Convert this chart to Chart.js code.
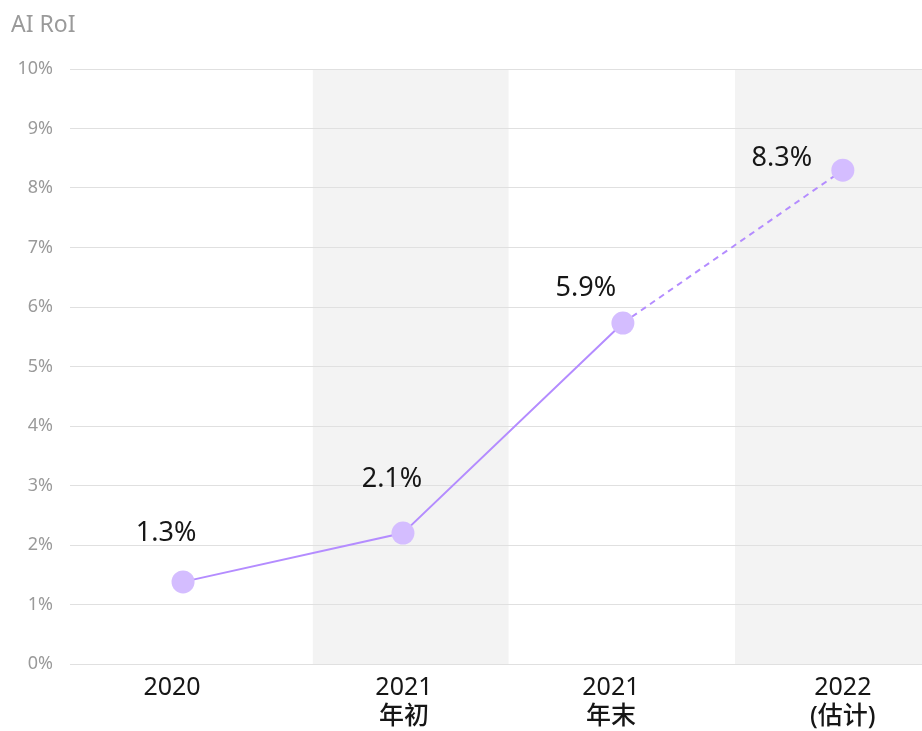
<!DOCTYPE html>
<html>
<head>
<meta charset="utf-8">
<title>AI RoI</title>
<script src="https://cdn.jsdelivr.net/npm/chart.js@4.4.1/dist/chart.umd.min.js"></script>
<style>
  html, body { margin: 0; padding: 0; background: #fff; overflow: hidden; }
  #wrap { width: 922px; height: 731px; position: relative; }
  canvas { display: block; }
</style>
</head>
<body>
<div id="wrap"><canvas id="chart"></canvas></div>
<script>
// ── Data ───────────────────────────────────────────
const TITLE = "AI RoI";
const CATEGORIES = [["2020"], ["2021", "年初"], ["2021", "年末"], ["2022", "(估计)"]];
const POSITIONS  = [0, 1, 2, 3];
const VALUES     = [1.38, 2.2, 5.73, 8.3];
const VALUE_LABELS = ["1.3%", "2.1%", "5.9%", "8.3%"];
const Y_TICKS_MAX = 10;

// shaded columns, in x-axis units
const BANDS = [[0.59, 1.48], [2.51, 3.36]];
const X_RANGE = [-0.514, 3.36];

// label nudges (px)
const LABEL_OFFSETS = [[-17, -49], [-11, -54], [-37, -35], [-61, -12]];
const TICK_NUDGE = [-11, 1, -12, 0];

const FONT = "'Noto Sans', 'Noto Sans CJK SC', sans-serif";
const LINE_COLOR = "#b48cff";
const POINT_COLOR = "#d4bdff";

// ── Plugins ────────────────────────────────────────
const bandsPlugin = {
  id: "bands",
  beforeDraw(chart) {
    const { ctx, chartArea, scales } = chart;
    ctx.save();
    ctx.fillStyle = "#f3f3f3";
    BANDS.forEach(([a, b]) => {
      const x0 = scales.x.getPixelForValue(a);
      const x1 = Math.min(scales.x.getPixelForValue(b), chartArea.right);
      ctx.fillRect(x0, chartArea.top, x1 - x0, chartArea.bottom - chartArea.top);
    });
    ctx.restore();
  },
};

const labelsPlugin = {
  id: "valueLabels",
  afterDatasetsDraw(chart) {
    const { ctx } = chart;
    const meta = chart.getDatasetMeta(0);
    ctx.save();
    ctx.font = `27px ${FONT}`;
    ctx.fillStyle = "#161616";
    ctx.textAlign = "center";
    ctx.textBaseline = "middle";
    meta.data.forEach((pt, i) => {
      const [dx, dy] = LABEL_OFFSETS[i];
      ctx.fillText(VALUE_LABELS[i], pt.x + dx, pt.y + dy);
    });
    ctx.restore();
  },
};

// category labels under the axis: year regular, chinese note medium
const xLabelsPlugin = {
  id: "xLabels",
  afterDraw(chart) {
    const { ctx, chartArea, scales } = chart;
    ctx.save();
    ctx.fillStyle = "#161616";
    ctx.textAlign = "center";
    ctx.textBaseline = "middle";
    POSITIONS.forEach((p, i) => {
      const x = scales.x.getPixelForValue(p) + TICK_NUDGE[i];
      CATEGORIES[i].forEach((line, j) => {
        ctx.font = j === 0 ? `25px ${FONT}` : `500 25px ${FONT}`;
        ctx.fillText(line, x, chartArea.bottom + 24 + j * 29);
      });
    });
    ctx.restore();
  },
};

const titlePlugin = {
  id: "topTitle",
  afterDraw(chart) {
    const { ctx } = chart;
    ctx.save();
    ctx.font = `23px ${FONT}`;
    ctx.fillStyle = "#9a9a9a";
    ctx.textAlign = "left";
    ctx.textBaseline = "middle";
    ctx.fillText(TITLE, 11, 25);
    ctx.restore();
  },
};

// ── Chart ──────────────────────────────────────────
new Chart(document.getElementById("chart"), {
  type: "line",
  data: {
    datasets: [{
      data: POSITIONS.map((x, i) => ({ x, y: VALUES[i] })),
      borderColor: LINE_COLOR,
      borderWidth: 2,
      backgroundColor: POINT_COLOR,
      pointBackgroundColor: POINT_COLOR,
      pointBorderWidth: 0,
      pointRadius: 11.5,
      pointHoverRadius: 11.5,
      tension: 0,
      segment: {
        borderDash: c => c.p0DataIndex >= 2 ? [6, 5] : undefined,
      },
    }],
  },
  options: {
    responsive: true,
    maintainAspectRatio: false,
    animation: false,
    layout: { autoPadding: false, padding: { top: 69, left: 0, right: 0, bottom: 0 } },
    plugins: {
      legend: { display: false },
      tooltip: { enabled: false },
    },
    scales: {
      x: {
        type: "linear",
        min: X_RANGE[0],
        max: X_RANGE[1],
        afterBuildTicks: s => { s.ticks = POSITIONS.map(v => ({ value: v })); },
        afterFit: s => { s.height = 67; s.paddingLeft = 0; s.paddingRight = 0; },
        grid: { display: false, drawTicks: false },
        border: { display: false },
        ticks: { display: false },
      },
      y: {
        min: 0,
        max: Y_TICKS_MAX,
        afterFit: s => { s.width = 70; },
        grid: { color: "#e0e0e0", drawTicks: false, lineWidth: 1 },
        border: { display: false },
        ticks: {
          stepSize: 1,
          padding: 17,
          color: "#9a9a9a",
          font: { family: FONT, size: 18 },
          callback: v => v + "%",
        },
      },
    },
  },
  plugins: [bandsPlugin, labelsPlugin, xLabelsPlugin, titlePlugin],
});
</script>
</body>
</html>
